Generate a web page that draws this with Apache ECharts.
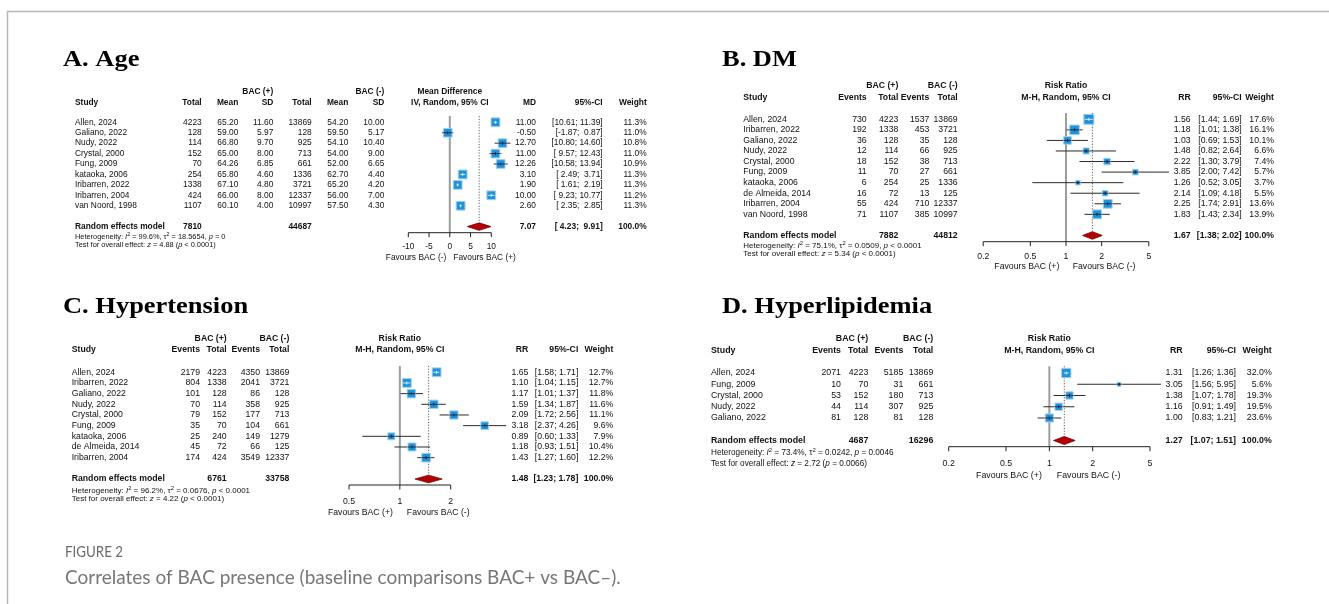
<!DOCTYPE html>
<html>
<head>
<meta charset="utf-8">
<script src="https://cdn.jsdelivr.net/npm/echarts@6/dist/echarts.min.js"></script>
<style>
html,body{margin:0;padding:0;background:#fff}
#main{width:1329px;height:604px}
</style>
</head>
<body>
<div id="main"></div>
<script>
// ---------- A. Age (mean difference)
var ageStudy = ['Allen, 2024','Galiano, 2022','Nudy, 2022','Crystal, 2000','Fung, 2009','kataoka, 2006','Iribarren, 2022','Iribarren, 2004','van Noord, 1998'];
var ageTotalPos = [4223,128,114,152,70,254,1338,424,1107];
var ageMeanPos = [65.20,59.00,66.80,65.00,64.26,65.80,67.10,66.00,60.10];
var ageSdPos = [11.60,5.97,9.70,8.00,6.85,4.60,4.80,8.00,4.00];
var ageTotalNeg = [13869,128,925,713,661,1336,3721,12337,10997];
var ageMeanNeg = [54.20,59.50,54.10,54.00,52.00,62.70,65.20,56.00,57.50];
var ageSdNeg = [10.00,5.17,10.40,9.00,6.65,4.40,4.20,7.00,4.30];
var ageMD = [11.00,-0.50,12.70,11.00,12.26,3.10,1.90,10.00,2.60];
var ageLo = [10.61,-1.87,10.80,9.57,10.58,2.49,1.61,9.23,2.35];
var ageHi = [11.39,0.87,14.60,12.43,13.94,3.71,2.19,10.77,2.85];
var ageWeight = [11.3,11.0,10.8,11.0,10.9,11.3,11.3,11.2,11.3];
var ageTotals = [7810,44687];
var ageSummary = [7.07,4.23,9.91];
var ageHet = ['99.6%','18.5654','= 0'];
var ageTest = ['4.88','< 0.0001'];
var ageTicks = [-10,-5,0,5,10];

// ---------- B. DM (risk ratio)
var dmStudy = ['Allen, 2024','Iribarren, 2022','Galiano, 2022','Nudy, 2022','Crystal, 2000','Fung, 2009','kataoka, 2006','de Almeida, 2014','Iribarren, 2004','van Noord, 1998'];
var dmEventsPos = [730,192,36,12,18,11,6,16,55,71];
var dmTotalPos = [4223,1338,128,114,152,70,254,72,424,1107];
var dmEventsNeg = [1537,453,35,66,38,27,25,13,710,385];
var dmTotalNeg = [13869,3721,128,925,713,661,1336,125,12337,10997];
var dmRR = [1.56,1.18,1.03,1.48,2.22,3.85,1.26,2.14,2.25,1.83];
var dmLo = [1.44,1.01,0.69,0.82,1.30,2.00,0.52,1.09,1.74,1.43];
var dmHi = [1.69,1.38,1.53,2.64,3.79,7.42,3.05,4.18,2.91,2.34];
var dmWeight = [17.6,16.1,10.1,6.6,7.4,5.7,3.7,5.5,13.6,13.9];
var dmTotals = [7882,44812];
var dmSummary = [1.67,1.38,2.02];
var dmHet = ['75.1%','0.0509','< 0.0001'];
var dmTest = ['5.34','< 0.0001'];
var dmTicks = [0.2,0.5,1,2,5];

// ---------- C. Hypertension (risk ratio)
var htnStudy = ['Allen, 2024','Iribarren, 2022','Galiano, 2022','Nudy, 2022','Crystal, 2000','Fung, 2009','kataoka, 2006','de Almeida, 2014','Iribarren, 2004'];
var htnEventsPos = [2179,804,101,70,79,35,25,45,174];
var htnTotalPos = [4223,1338,128,114,152,70,240,72,424];
var htnEventsNeg = [4350,2041,86,358,177,104,149,66,3549];
var htnTotalNeg = [13869,3721,128,925,713,661,1279,125,12337];
var htnRR = [1.65,1.10,1.17,1.59,2.09,3.18,0.89,1.18,1.43];
var htnLo = [1.58,1.04,1.01,1.34,1.72,2.37,0.60,0.93,1.27];
var htnHi = [1.71,1.15,1.37,1.87,2.56,4.26,1.33,1.51,1.60];
var htnWeight = [12.7,12.7,11.8,11.6,11.1,9.6,7.9,10.4,12.2];
var htnTotals = [6761,33758];
var htnSummary = [1.48,1.23,1.78];
var htnHet = ['96.2%','0.0676','< 0.0001'];
var htnTest = ['4.22','< 0.0001'];
var htnTicks = [0.5,1,2];

// ---------- D. Hyperlipidemia (risk ratio)
var hlStudy = ['Allen, 2024','Fung, 2009','Crystal, 2000','Nudy, 2022','Galiano, 2022'];
var hlEventsPos = [2071,10,53,44,81];
var hlTotalPos = [4223,70,152,114,128];
var hlEventsNeg = [5185,31,180,307,81];
var hlTotalNeg = [13869,661,713,925,128];
var hlRR = [1.31,3.05,1.38,1.16,1.00];
var hlLo = [1.26,1.56,1.07,0.91,0.83];
var hlHi = [1.36,5.95,1.78,1.49,1.21];
var hlWeight = [32.0,5.6,19.3,19.5,23.6];
var hlTotals = [4687,16296];
var hlSummary = [1.27,1.07,1.51];
var hlHet = ['73.4%','0.0242','= 0.0046'];
var hlTest = ['2.72','= 0.0066'];
var hlTicks = [0.2,0.5,1,2,5];

var SANS = '"Liberation Sans", Arial, sans-serif';
var INK = '#111';

var rrHeads = ['Events','Total','Events','Total'];
var panels = [
  {title:'A. Age', titleX:63, titleY:60, fs:8.4, hetFs:7.4, studyX:75, head1:91.7, head2:102.3,
   row0:122.3, step:10.43, axisY:232.7, x0:408.3, x1:491.3, tickY:246.7, favY:257.7, favGap:3.5,
   hetY:236.7, testY:244.5, colX:[201.7,238.3,273.3,311.7,348.3,384.3], effX:[536,602.7,646.7],
   maxSq:8.8, log:false, pad:5, heads:['Total','Mean','SD','Total','Mean','SD'], dec:[0,2,2,0,2,2],
   groups:[2,5], totalCols:[0,3], effHead:['Mean Difference','IV, Random, 95% CI'], effName:'MD',
   fav:['Favours BAC (-)','Favours BAC (+)'],
   study:ageStudy, cols:[ageTotalPos,ageMeanPos,ageSdPos,ageTotalNeg,ageMeanNeg,ageSdNeg],
   est:ageMD, lo:ageLo, hi:ageHi, w:ageWeight, totals:ageTotals, sum:ageSummary, het:ageHet, test:ageTest, ticks:ageTicks},
  {title:'B. DM', titleX:722, titleY:60, fs:8.7, hetFs:8.0, studyX:743.3, head1:86, head2:98,
   row0:119.3, step:10.56, axisY:241.7, x0:983.2, x1:1148.8, tickY:256.7, favY:266.7, favGap:6.7,
   hetY:245.7, testY:253.5, colX:[866.7,898.3,929.3,957.7], effX:[1190.7,1241.7,1274],
   maxSq:10, log:true, pad:4, heads:rrHeads, dec:[0,0,0,0],
   groups:[1,3], totalCols:[1,3], effHead:['Risk Ratio','M-H, Random, 95% CI'], effName:'RR',
   fav:['Favours BAC (+)','Favours BAC (-)'],
   study:dmStudy, cols:[dmEventsPos,dmTotalPos,dmEventsNeg,dmTotalNeg],
   est:dmRR, lo:dmLo, hi:dmHi, w:dmWeight, totals:dmTotals, sum:dmSummary, het:dmHet, test:dmTest, ticks:dmTicks},
  {title:'C. Hypertension', titleX:63, titleY:307.5, fs:8.7, hetFs:8.0, studyX:71.7, head1:338.3, head2:350,
   row0:372.3, step:10.67, axisY:485, x0:349, x1:450.7, tickY:501.7, favY:512.7, favGap:7,
   hetY:490.5, testY:499, colX:[200,226.7,260,289.3], effX:[528.3,578.3,613.3],
   maxSq:8.8, log:true, pad:4, heads:rrHeads, dec:[0,0,0,0],
   groups:[1,3], totalCols:[1,3], effHead:['Risk Ratio','M-H, Random, 95% CI'], effName:'RR',
   fav:['Favours BAC (+)','Favours BAC (-)'],
   study:htnStudy, cols:[htnEventsPos,htnTotalPos,htnEventsNeg,htnTotalNeg],
   est:htnRR, lo:htnLo, hi:htnHi, w:htnWeight, totals:htnTotals, sum:htnSummary, het:htnHet, test:htnTest, ticks:htnTicks},
  {title:'D. Hyperlipidemia', titleX:722, titleY:307.5, fs:8.8, hetFs:8.2, studyX:711, head1:338.3, head2:350.5,
   row0:373, step:11.25, axisY:446.7, x0:948.7, x1:1150, tickY:463.3, favY:475.7, favGap:7.5,
   hetY:452.7, testY:463.3, colX:[841,868.3,903.3,933.3], effX:[1182.7,1236,1271.7],
   maxSq:9.4, log:true, pad:4, heads:rrHeads, dec:[0,0,0,0],
   groups:[1,3], totalCols:[1,3], effHead:['Risk Ratio','M-H, Random, 95% CI'], effName:'RR',
   fav:['Favours BAC (+)','Favours BAC (-)'],
   study:hlStudy, cols:[hlEventsPos,hlTotalPos,hlEventsNeg,hlTotalNeg],
   est:hlRR, lo:hlLo, hi:hlHi, w:hlWeight, totals:hlTotals, sum:hlSummary, het:hlHet, test:hlTest, ticks:hlTicks}
];

function pad(v, width) {
  var s = v.toFixed(2);
  while (s.length < width) s = ' ' + s;
  return s;
}
function ciText(lo, hi, width) { return '[' + pad(lo, width) + '; ' + pad(hi, width) + ']'; }

function txt(x, y, s, size, extra) {
  var st = {text: s, fontSize: size, fontFamily: SANS, fill: INK, align: 'left', verticalAlign: 'middle'};
  for (var k in extra) st[k] = extra[k];
  return {type: 'text', x: x, y: y, silent: true, style: st};
}

var grids = [], xAxes = [], yAxes = [], series = [], graphics = [];

panels.forEach(function (p, k) {
  var n = p.study.length;
  var top = p.row0 - p.step;
  p.n = n;
  p.yMax = (p.axisY - p.row0) / p.step;
  p.wMax = Math.max.apply(null, p.w);
  var tMin = p.ticks[0], tMax = p.ticks[p.ticks.length - 1];

  grids.push({left: p.x0, top: top, width: p.x1 - p.x0, height: p.axisY - top});
  xAxes.push(p.log
    ? {type: 'log', logBase: 10, min: tMin, max: tMax, gridIndex: k, show: false}
    : {type: 'value', min: tMin, max: tMax, gridIndex: k, show: false});
  yAxes.push({type: 'value', inverse: true, min: -1, max: p.yMax, gridIndex: k, show: false});

  // reference lines, effect header, favours labels
  series.push({
    type: 'custom', xAxisIndex: k, yAxisIndex: k, clip: false, silent: true, z: 1,
    data: [[p.log ? 1 : 0, p.sum[0], 0]], encode: {x: [0, 1], y: 2},
    renderItem: function (params, api) {
      var nullV = api.value(0), sumV = api.value(1);
      var nt = api.coord([nullV, -0.6]), nb = api.coord([nullV, p.yMax]);
      var st = api.coord([sumV, -0.6]), sb = api.coord([sumV, p.n + 1 - 0.4]);
      return {type: 'group', children: [
        {type: 'line', shape: {x1: nt[0], y1: nt[1], x2: nb[0], y2: nb[1]}, style: {stroke: '#9d9d9d', lineWidth: 2}},
        {type: 'line', shape: {x1: st[0], y1: st[1], x2: sb[0], y2: sb[1]}, style: {stroke: '#333', lineWidth: 0.8, lineDash: [1.2, 1.6]}},
        txt(nt[0], p.head1, p.effHead[0], p.fs, {align: 'center', fontWeight: 'bold'}),
        txt(nt[0], p.head2, p.effHead[1], p.fs, {align: 'center', fontWeight: 'bold'}),
        txt(nt[0] - p.favGap, p.favY, p.fav[0], p.fs, {align: 'right'}),
        txt(nt[0] + p.favGap, p.favY, p.fav[1], p.fs, {align: 'left'})
      ]};
    }
  });

  // study squares with confidence intervals
  series.push({
    type: 'custom', xAxisIndex: k, yAxisIndex: k, clip: false, silent: true, z: 5,
    data: p.est.map(function (v, i) { return [v, p.lo[i], p.hi[i], p.w[i], i]; }),
    encode: {x: [0, 1, 2], y: 4},
    renderItem: function (params, api) {
      var r = api.value(4);
      var c = api.coord([api.value(0), r]);
      var a = api.coord([api.value(1), r]);
      var b = api.coord([api.value(2), r]);
      var s = p.maxSq * Math.sqrt(api.value(3) / p.wMax);
      var inner = (b[0] - a[0]) < s ? '#fff' : '#111';
      var hx1 = Math.max(a[0], c[0] - s / 2), hx2 = Math.min(b[0], c[0] + s / 2);
      return {type: 'group', children: [
        {type: 'line', shape: {x1: a[0], y1: c[1], x2: b[0], y2: c[1]}, style: {stroke: '#2a2a2a', lineWidth: 1}},
        {type: 'rect', shape: {x: c[0] - s / 2, y: c[1] - s / 2, width: s, height: s},
         style: {fill: '#1f93da', stroke: '#a3cff0', lineWidth: 1}},
        {type: 'line', shape: {x1: hx1, y1: c[1], x2: hx2, y2: c[1]}, style: {stroke: inner, lineWidth: 0.8}},
        {type: 'line', shape: {x1: c[0], y1: c[1] - 1.5, x2: c[0], y2: c[1] + 1.5}, style: {stroke: inner, lineWidth: 0.8}}
      ]};
    }
  });

  // pooled estimate diamond
  series.push({
    type: 'custom', xAxisIndex: k, yAxisIndex: k, clip: false, silent: true, z: 6,
    data: [[p.sum[0], p.sum[1], p.sum[2], n + 1]], encode: {x: [0, 1, 2], y: 3},
    renderItem: function (params, api) {
      var r = api.value(3);
      var c = api.coord([api.value(0), r]);
      var a = api.coord([api.value(1), r]);
      var b = api.coord([api.value(2), r]);
      var h = p.step * 0.36;
      return {type: 'polygon', shape: {points: [[a[0], c[1]], [c[0], c[1] - h], [b[0], c[1]], [c[0], c[1] + h]]},
        style: {fill: '#b30000', stroke: '#7a0000', lineWidth: 0.8}};
    }
  });

  // x axis (line, ticks, labels)
  series.push({
    type: 'custom', xAxisIndex: k, yAxisIndex: k, clip: false, silent: true, z: 4,
    data: p.ticks.map(function (t) { return [t, 0]; }), encode: {x: 0, y: 1},
    renderItem: function (params, api) {
      var t = api.value(0);
      var pt = api.coord([t, p.yMax]);
      var kids = [
        {type: 'line', shape: {x1: pt[0], y1: pt[1], x2: pt[0], y2: pt[1] + 4.5}, style: {stroke: '#222', lineWidth: 1}},
        txt(pt[0], p.tickY, String(t), p.fs, {align: 'center'})
      ];
      if (params.dataIndex === 0) {
        var e = api.coord([p.ticks[p.ticks.length - 1], p.yMax]);
        kids.push({type: 'line', shape: {x1: pt[0], y1: pt[1], x2: e[0], y2: e[1]}, style: {stroke: '#222', lineWidth: 1}});
      }
      return {type: 'group', children: kids};
    }
  });

  // ---- text table
  var B = {fontWeight: 'bold'}, R = {align: 'right'}, RB = {align: 'right', fontWeight: 'bold'};
  graphics.push({type: 'text', x: p.titleX, y: p.titleY, scaleX: 1.15, silent: true,
    style: {text: p.title, fontFamily: '"Liberation Serif", "Times New Roman", serif', fontWeight: 'bold',
      fontSize: 23, fill: '#000', align: 'left', verticalAlign: 'middle'}});
  graphics.push(txt(p.colX[p.groups[0]], p.head1, 'BAC (+)', p.fs, RB));
  graphics.push(txt(p.colX[p.groups[1]], p.head1, 'BAC (-)', p.fs, RB));
  graphics.push(txt(p.studyX, p.head2, 'Study', p.fs, B));
  p.heads.forEach(function (h, j) { graphics.push(txt(p.colX[j], p.head2, h, p.fs, RB)); });
  graphics.push(txt(p.effX[0], p.head2, p.effName, p.fs, RB));
  graphics.push(txt(p.effX[1], p.head2, '95%-CI', p.fs, RB));
  graphics.push(txt(p.effX[2], p.head2, 'Weight', p.fs, RB));

  p.study.forEach(function (name, i) {
    var y = p.row0 + i * p.step;
    graphics.push(txt(p.studyX, y, name, p.fs, {}));
    p.cols.forEach(function (col, j) {
      graphics.push(txt(p.colX[j], y, col[i].toFixed(p.dec[j]), p.fs, R));
    });
    graphics.push(txt(p.effX[0], y, p.est[i].toFixed(2), p.fs, R));
    graphics.push(txt(p.effX[1], y, ciText(p.lo[i], p.hi[i], p.pad), p.fs, R));
    graphics.push(txt(p.effX[2], y, p.w[i].toFixed(1) + '%', p.fs, R));
  });

  var ys = p.row0 + (n + 1) * p.step;
  graphics.push(txt(p.studyX, ys, 'Random effects model', p.fs, B));
  graphics.push(txt(p.colX[p.totalCols[0]], ys, String(p.totals[0]), p.fs, RB));
  graphics.push(txt(p.colX[p.totalCols[1]], ys, String(p.totals[1]), p.fs, RB));
  graphics.push(txt(p.effX[0], ys, p.sum[0].toFixed(2), p.fs, RB));
  graphics.push(txt(p.effX[1], ys, ciText(p.sum[1], p.sum[2], p.pad), p.fs, RB));
  graphics.push(txt(p.effX[2], ys, '100.0%', p.fs, RB));

  var rich = {
    i: {fontStyle: 'italic', fontSize: p.hetFs, fontFamily: SANS, fill: INK},
    s: {fontSize: p.hetFs * 0.72, fontFamily: SANS, fill: INK, padding: [0, 0, 4, 0]}
  };
  graphics.push(txt(p.studyX, p.hetY,
    'Heterogeneity: {i|I}{s|2} = ' + p.het[0] + ', \u03c4{s|2} = ' + p.het[1] + ', {i|p} ' + p.het[2],
    p.hetFs, {rich: rich}));
  graphics.push(txt(p.studyX, p.testY,
    'Test for overall effect: {i|z} = ' + p.test[0] + ' ({i|p} ' + p.test[1] + ')',
    p.hetFs, {rich: rich}));
});

// frame and caption
graphics.push({type: 'line', silent: true, shape: {x1: 7, y1: 11.5, x2: 1329, y2: 11.5}, style: {stroke: '#b8b8b8', lineWidth: 1.5}});
graphics.push({type: 'line', silent: true, shape: {x1: 7.5, y1: 11, x2: 7.5, y2: 604}, style: {stroke: '#b8b8b8', lineWidth: 1.5}});
graphics.push({type: 'text', x: 65, y: 552, scaleX: 0.86, silent: true,
  style: {text: 'FIGURE 2', fontFamily: 'Lato, "Open Sans", sans-serif', fontSize: 15.5, fill: '#6a6a6a', verticalAlign: 'middle'}});
graphics.push({type: 'text', x: 65, y: 578, silent: true,
  style: {text: 'Correlates of BAC presence (baseline comparisons BAC+ vs BAC\u2013).', fontFamily: 'Lato, "Open Sans", sans-serif',
    fontSize: 19, fill: '#777', verticalAlign: 'middle'}});

var chart = echarts.init(document.getElementById('main'));
chart.setOption({
  animation: false,
  backgroundColor: '#fff',
  grid: grids,
  xAxis: xAxes,
  yAxis: yAxes,
  series: series,
  graphic: graphics
});
</script>
</body>
</html>
